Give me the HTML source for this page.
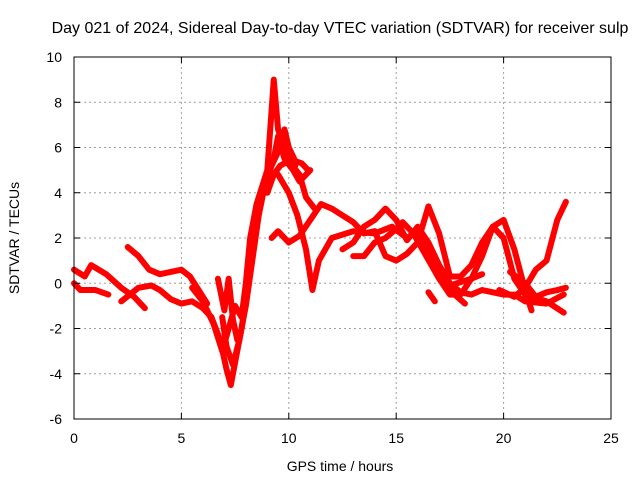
<!DOCTYPE html>
<html><head><meta charset="utf-8"><style>
body{margin:0;background:#fff;}
svg text{font-family:"Liberation Sans",sans-serif;font-size:14px;fill:#000;}
</style></head><body>
<svg id="chart" width="640" height="480" xmlns="http://www.w3.org/2000/svg">
<rect width="640" height="480" fill="#fff"/>
<g id="grid"></g><g id="series"></g><g id="axes"></g>
<text x="340" y="33" text-anchor="middle" style="font-size:16px">Day 021 of 2024, Sidereal Day-to-day VTEC variation (SDTVAR) for receiver sulp</text>
<text x="340" y="471" text-anchor="middle">GPS time / hours</text>
<text x="0" y="0" transform="translate(19,238) rotate(-90)" text-anchor="middle">SDTVAR / TECUs</text>
</svg>
<script>
const xTicks=[0,5,10,15,20,25];
const yTicks=[-6,-4,-2,0,2,4,6,8,10];
const trackA=[[0,0.6],[0.5,0.3],[0.8,0.8],[1.5,0.4],[2.2,-0.2],[2.8,-0.6],[3.3,-1.1]];
const trackB=[[0,0],[0.3,-0.3],[1,-0.3],[1.6,-0.5]];
const trackC=[[2.5,1.6],[3,1.2],[3.5,0.6],[4,0.4],[4.5,0.5],[5,0.6],[5.4,0.3],[5.8,-0.3],[6.2,-0.9]];
const trackD=[[2.2,-0.8],[3,-0.2],[3.6,-0.1],[4,-0.3],[4.5,-0.7],[5,-0.9],[5.5,-0.8],[6,-1.1],[6.4,-1.5],[6.8,-2.5],[7.1,-3.8],[7.3,-4.5],[7.5,-3.5],[7.8,-2],[8.1,0],[8.4,2.2],[8.7,4],[9,4.8],[9.3,5.5],[9.5,6.5],[9.8,5.5],[10.2,5],[10.5,4.5],[11,5]];
const trackE=[[5.5,-0.2],[6,-0.8],[6.5,-1.8],[6.9,-3],[7.2,-2],[7.5,-1],[7.8,-1.5],[8,0],[8.2,2],[8.5,3.5],[9,5],[9.3,9],[9.5,6.8],[9.8,6],[10,5.5],[10.3,5.2]];
const trackF=[[6.7,0.2],[7,-1.2],[7.2,0.2],[7.4,-1.6],[7.6,-2.5]];
const trackF2=[[6.9,-1.5],[7.1,-2.8],[7.4,-3.6],[7.7,-2.5],[8,-1],[8.3,1],[8.6,3],[8.9,4.4],[9.2,5.2],[9.5,5.8],[9.8,6.8],[10,6],[10.3,5.4],[10.6,5.3],[10.9,5]];
const trackF3=[[9,4],[9.3,4.8],[9.6,5.2],[10,5.4],[10.5,4.8],[10.8,3.8],[11.2,3.3]];
const trackG=[[9.5,4.8],[10,4],[10.4,3],[10.8,1.5],[11.1,-0.3],[11.4,1],[12,2],[13,2.3],[14,2.2],[14.8,2.5],[15.5,2],[16,2.3],[16.5,1.5],[17,0.5],[17.5,-0.1],[18.5,0.2],[19,0.4]];
const trackH=[[9.2,2],[9.5,2.3],[10,1.8],[10.5,2.1],[11,2.8],[11.5,3.5],[12,3.3],[12.5,3],[13,2.7],[13.5,2.2],[14,2.3],[14.5,1.2],[15,1],[15.5,1.3],[16,1.8],[16.5,3.4],[17,2.2],[17.5,0.3],[18,0.3],[18.5,0.8],[19,1.8],[19.5,2.5],[20,2],[20.5,0.2],[21,-0.5],[22,-0.8],[22.8,-1.3]];
const trackI=[[12.5,1.5],[13,1.8],[13.5,2.5],[14,2.8],[14.5,3.3],[15,2.8],[15.5,1.9],[16,2.5],[16.5,1.8],[17,0.8],[17.5,0],[18,-0.4],[18.5,-0.5],[19,-0.3],[19.5,-0.4],[20,-0.5],[20.5,-0.5],[21,-0.8],[22,-0.9],[22.8,-0.5]];
const trackJ=[[13,1.2],[13.5,1.2],[14,1.8],[14.5,2],[15,2.4],[15.3,2.7],[15.8,2.2],[16.4,1.2],[17,0.2],[17.5,-0.5],[18,-0.5],[18.5,0.2],[19,1.2],[19.5,2.5],[20,2.8],[20.5,1.5],[21,-0.3],[21.3,-1.2]];
const trackK=[[16.5,-0.4],[16.8,-0.8]];
const trackK2=[[17.2,0.4],[17.6,-0.4],[18.2,-0.9]];
const trackL=[[19.8,-0.3],[20.5,-0.6],[21,-0.2],[21.5,0.6],[22,1],[22.5,2.8],[22.9,3.6]];
const trackM=[[20.3,0.5],[21,0],[21.5,-0.6],[22,-0.4],[22.5,-0.3],[22.9,-0.2]];
const tracks=[trackA,trackB,trackC,trackD,trackE,trackF,trackF2,trackF3,trackG,trackH,trackI,trackJ,trackK,trackK2,trackL,trackM];
const L=74,R=611,T=57,B=419;
const sx=v=>L+(v-0)/(25-0)*(R-L);
const sy=v=>B-(v+6)/(16)*(B-T);
const NS="http://www.w3.org/2000/svg";
function mk(t,a,p){const e=document.createElementNS(NS,t);for(const k in a)e.setAttribute(k,a[k]);p.appendChild(e);return e;}
const g=document.getElementById('grid'),ax=document.getElementById('axes'),s=document.getElementById('series');
xTicks.forEach(v=>{const x=sx(v);
 if(v>0&&v<25){const l=mk('line',{x1:x,x2:x,y1:T,y2:B,stroke:'#a0a0a0','stroke-dasharray':'2,3'},g);}
 const t=mk('text',{x:x,y:443,'text-anchor':'middle'},ax);t.textContent=v;
 mk('line',{x1:x,x2:x,y1:B,y2:B-6,stroke:'#000'},ax);mk('line',{x1:x,x2:x,y1:T,y2:T+6,stroke:'#000'},ax);});
yTicks.forEach(v=>{const y=sy(v);
 if(v>-6&&v<10){const l=mk('line',{x1:L,x2:R,y1:y,y2:y,stroke:'#a0a0a0','stroke-dasharray':'2,3'},g);}
 const t=mk('text',{x:62,y:y+5,'text-anchor':'end'},ax);t.textContent=v;
 mk('line',{x1:L,x2:L+6,y1:y,y2:y,stroke:'#000'},ax);mk('line',{x1:R,x2:R-6,y1:y,y2:y,stroke:'#000'},ax);});
const fr=mk('rect',{x:L,y:T,width:R-L,height:B-T,fill:'none',stroke:'#000'},ax);

tracks.forEach(tr=>{const p=mk('polyline',{points:tr.map(d=>sx(d[0])+','+sy(d[1])).join(' '),fill:'none',stroke:'#ff0000','stroke-width':6,'stroke-linejoin':'round','stroke-linecap':'round'},s);
 
 });
</script>
</body></html>
